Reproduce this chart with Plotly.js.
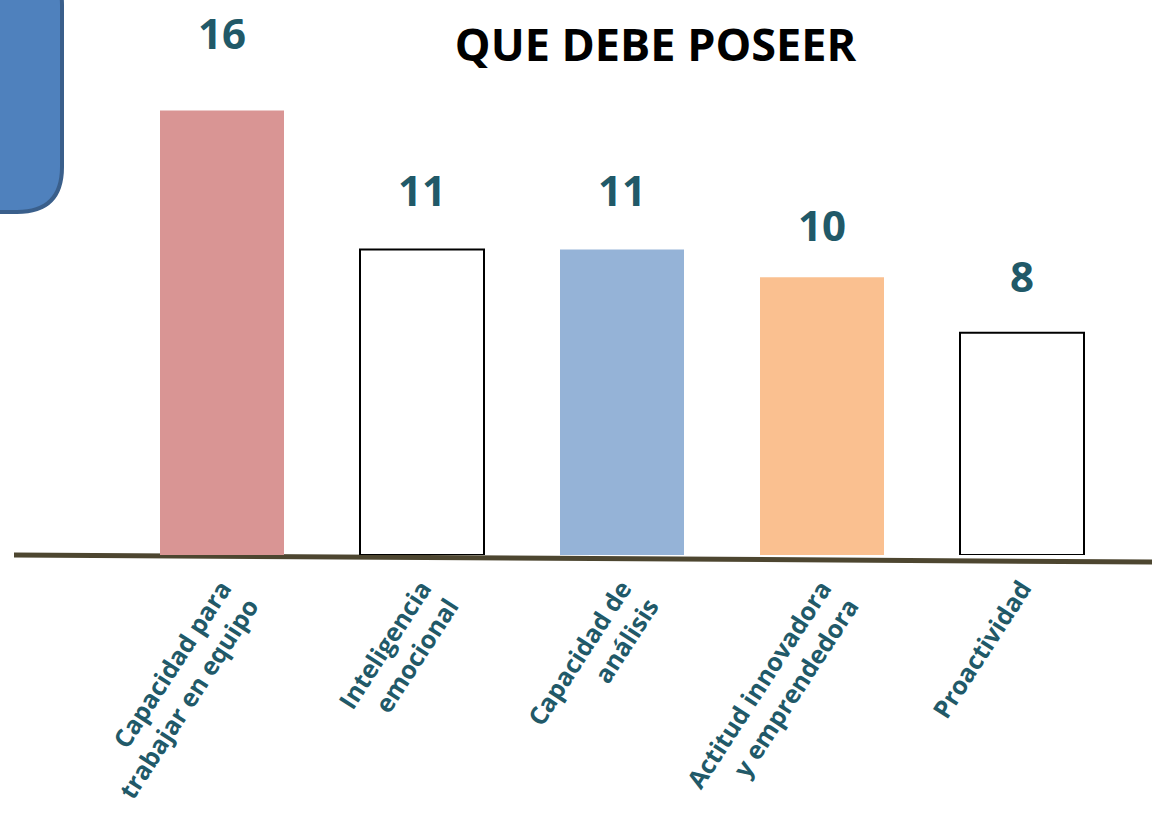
<!DOCTYPE html>
<html>
<head>
<meta charset="utf-8">
<script src="https://cdn.plot.ly/plotly-3.0.1.min.js"></script>
<style>html,body{margin:0;padding:0;background:#fff;}#chart{width:1152px;height:822px;}</style>
</head>
<body>
<div id="chart"></div>
<script>
const categories = [
  "Capacidad para<br>trabajar en equipo",
  "Inteligencia<br>emocional",
  "Capacidad de<br>análisis",
  "Actitud innovadora<br>y emprendedora",
  "Proactividad"
];
const values = [16, 11, 11, 10, 8];
const barColors = ["#d99594", "#ffffff", "#95b3d7", "#fac090", "#ffffff"];
const barLineColors = ["#d99594", "#000000", "#95b3d7", "#fac090", "#000000"];
const barLineWidths = [0, 2, 0, 0, 2];
const labelShifts = [48, 29, 29, 22, 27];

const teal = "#215968";
const fontFam = "'Open Sans', 'Noto Sans', sans-serif";

const trace = {
  type: "bar",
  x: categories,
  y: values,
  marker: { color: barColors, line: { color: barLineColors, width: barLineWidths } },
  hoverinfo: "none",
  cliponaxis: false
};

const annotations = values.map((v, i) => ({
  x: categories[i], y: v, xref: "x", yref: "y",
  text: String(v), showarrow: false,
  yanchor: "bottom", yshift: labelShifts[i],
  font: { family: fontFam, size: 42, color: teal, weight: 700 }
}));

const L = 122, W = 1000, T = 55, H = 500;
const px = p => (p - L) / W;
const py = p => (T + H - p) / H;

const x0 = px(-40), x1 = px(62), y0 = py(212), y1 = py(-40);
const rx = 45 / W, ry = 45 / H;
const boxPath = `M ${x0} ${y0} L ${x1 - rx} ${y0} Q ${x1} ${y0} ${x1} ${y0 + ry} L ${x1} ${y1 - ry} Q ${x1} ${y1} ${x1 - rx} ${y1} L ${x0} ${y1} Z`;

const layout = {
  width: 1152, height: 822,
  margin: { l: L, r: 1152 - L - W, t: T, b: 822 - T - H },
  paper_bgcolor: "#ffffff", plot_bgcolor: "#ffffff",
  showlegend: false,
  bargap: 0.38,
  title: {
    text: "QUE DEBE POSEER",
    x: 0.569, xanchor: "center", y: 1 - 45 / 822, yanchor: "middle",
    font: { family: fontFam, size: 45, color: "#000000", weight: 700 }
  },
  xaxis: {
    type: "category",
    showgrid: false, zeroline: false, showline: false,
    ticks: "outside", ticklen: 8, tickcolor: "rgba(0,0,0,0)",
    tickangle: -57,
    tickfont: { family: fontFam, size: 25, color: teal, weight: 700 }
  },
  yaxis: {
    range: [0, 18], showgrid: false, zeroline: false, showline: false,
    showticklabels: false, ticks: ""
  },
  annotations: annotations,
  shapes: [
    {
      type: "line", xref: "paper", yref: "paper", layer: "below",
      x0: px(14), y0: py(555), x1: px(1152), y1: py(562),
      line: { color: "#4d4630", width: 5 }
    },
    {
      type: "path", xref: "paper", yref: "paper", layer: "above",
      path: boxPath,
      fillcolor: "#4f81bd",
      line: { color: "#3a5f8b", width: 4 }
    }
  ]
};

Plotly.newPlot("chart", [trace], layout, { displayModeBar: false, staticPlot: true });
</script>
</body>
</html>
